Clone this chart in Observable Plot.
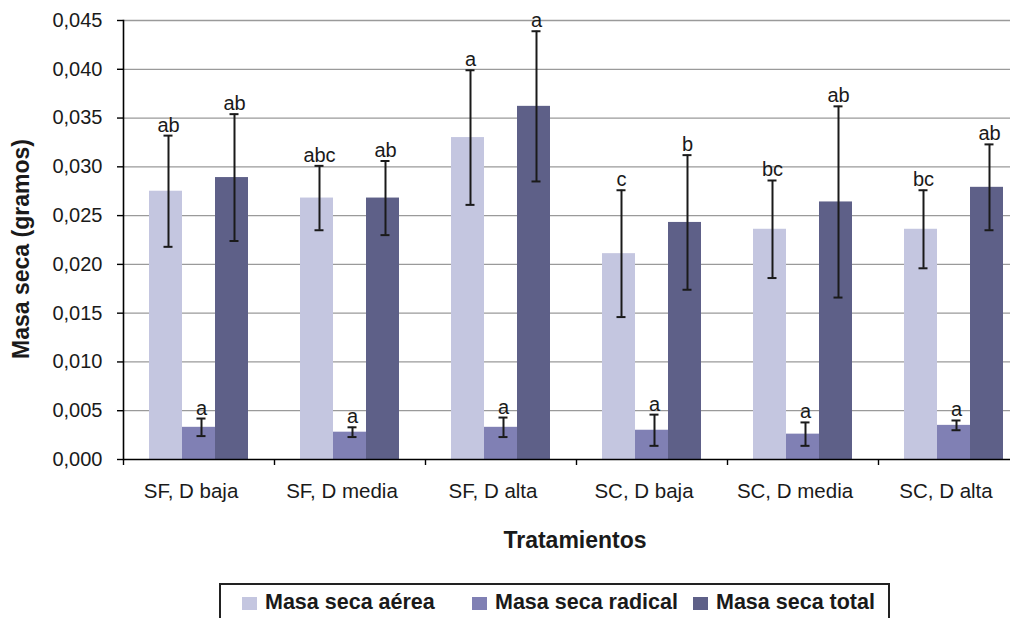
<!DOCTYPE html>
<html>
<head>
<meta charset="utf-8">
<script src="https://cdn.jsdelivr.net/npm/d3@7"></script>
<script src="https://cdn.jsdelivr.net/npm/@observablehq/plot@0.6"></script>
<style>
  body { margin: 0; background: #fff; font-family: "Liberation Sans", Arial, sans-serif; }
  #chart svg { display: block; }
  #legend { position: relative; width: 1019px; height: 35px; overflow: hidden; }
  #legend .box { position: absolute; left: 219px; top: 0; width: 671px; height: 50px; border: 2px solid #222; box-sizing: border-box; }
  #legend .sw { position: absolute; top: 14px; width: 15px; height: 13px; }
  #legend .lab { position: absolute; top: 9px; font-size: 21.5px; line-height: 1; font-weight: bold; color: #1a1a1a; white-space: nowrap; }
</style>
</head>
<body>
<div id="chart"></div>
<div id="legend"><div class="box"></div></div>
<script>
// ---- data ----
const categories = ["SF, D baja", "SF, D media", "SF, D alta", "SC, D baja", "SC, D media", "SC, D alta"];
const series = ["Masa seca aérea", "Masa seca radical", "Masa seca total"];
const colors = ["#c4c6e0", "#8080b4", "#5e6088"];

const aerea      = [0.0275, 0.0268, 0.0330, 0.0211, 0.0236, 0.0236];
const aereaErr   = [0.0057, 0.0033, 0.0069, 0.0065, 0.0050, 0.0040];
const aereaLet   = ["ab", "abc", "a", "c", "bc", "bc"];

const radical    = [0.0033, 0.0028, 0.0033, 0.0030, 0.0026, 0.0035];
const radicalErr = [0.0009, 0.0005, 0.0010, 0.0016, 0.0012, 0.0005];
const radicalLet = ["a", "a", "a", "a", "a", "a"];

const total      = [0.0289, 0.0268, 0.0362, 0.0243, 0.0264, 0.0279];
const totalErr   = [0.0065, 0.0038, 0.0077, 0.0069, 0.0098, 0.0044];
const totalLet   = ["ab", "ab", "a", "b", "ab", "ab"];

const yTicks = [0, 0.005, 0.010, 0.015, 0.020, 0.025, 0.030, 0.035, 0.040, 0.045];
const yLabel = "Masa seca (gramos)";
const xLabel = "Tratamientos";

// ---- table ----
const seriesData = [[aerea, aereaErr, aereaLet], [radical, radicalErr, radicalLet], [total, totalErr, totalLet]];
const rows = [];
categories.forEach((c, i) => {
  seriesData.forEach(([v, e, l], j) => {
    rows.push({cat: c, series: series[j], value: v[i], lo: v[i] - e[i], hi: v[i] + e[i], letter: l[i]});
  });
});

const fmt = d => d.toFixed(3).replace(".", ",");
const ink = "#1a1a1a";

const chart = Plot.plot({
  width: 1010,
  height: 583,
  marginTop: 20,
  marginBottom: 124,
  marginLeft: 123,
  marginRight: 0,
  style: {fontFamily: "'Liberation Sans', Arial, sans-serif", fontSize: "20px", color: ink, background: "#fff", overflow: "hidden"},
  fx: {domain: categories, range: [123, 1029], padding: 0, label: null},
  x: {domain: series, paddingInner: 0, paddingOuter: 0.765, axis: null},
  y: {domain: [0, 0.045]},
  color: {domain: series, range: colors},
  marks: [
    Plot.ruleY(yTicks.filter(d => d > 0), {stroke: "#9a9a9a", strokeWidth: 1.3}),
    Plot.barY(rows, {fx: "cat", x: "series", y: "value", fill: "series"}),
    Plot.ruleX(rows, {fx: "cat", x: "series", y1: "lo", y2: "hi", stroke: ink, strokeWidth: 2, dx: 2.5}),
    Plot.tickY(rows, {fx: "cat", x: "series", y: "hi", stroke: ink, strokeWidth: 2, insetLeft: 12, insetRight: 12, dx: 2.5}),
    Plot.tickY(rows, {fx: "cat", x: "series", y: "lo", stroke: ink, strokeWidth: 2, insetLeft: 12, insetRight: 12, dx: 2.5}),
    Plot.text(rows, {fx: "cat", x: "series", y: "hi", text: "letter", lineAnchor: "bottom", dy: -4, dx: 2.5, fontSize: 20, fill: ink}),
    Plot.ruleY([0], {stroke: "#000", strokeWidth: 1.6}),
    Plot.frame({anchor: "left", facet: "super", stroke: "#000", strokeWidth: 1.6}),
    Plot.axisY({ticks: yTicks, tickSize: 6, tickPadding: 15, tickFormat: fmt, fontSize: 20, stroke: "#000", strokeWidth: 1.4, label: null}),
    Plot.axisFx({anchor: "bottom", tickSize: 0, tickPadding: 24, fontSize: 20.5, dx: -8, label: null}),
    Plot.axisFx({anchor: "bottom", text: null, tickSize: 6, dx: -75.5, stroke: "#000", strokeWidth: 1.4, label: null}),
    Plot.text([xLabel], {facet: "super", frameAnchor: "bottom", textAnchor: "middle", lineAnchor: "bottom", dy: 88, dx: -1.5, fontSize: 23, fontWeight: "bold", fill: ink}),
    Plot.text([yLabel], {fx: [categories[0]], frameAnchor: "left", textAnchor: "middle", rotate: -90, lineAnchor: "middle", dx: -101.5, dy: 9, fontSize: 23, fontWeight: "bold", fill: ink})
  ]
});
document.getElementById("chart").appendChild(chart);

// ---- legend ----
const legendLeft = [242, 472, 693];
const legend = document.getElementById("legend");
series.forEach((s, i) => {
  const sw = document.createElement("div");
  sw.className = "sw";
  sw.style.left = legendLeft[i] + "px";
  sw.style.background = colors[i];
  legend.appendChild(sw);
  const lab = document.createElement("div");
  lab.className = "lab";
  lab.style.left = (legendLeft[i] + 23) + "px";
  lab.textContent = s;
  legend.appendChild(lab);
});
</script>
</body>
</html>
